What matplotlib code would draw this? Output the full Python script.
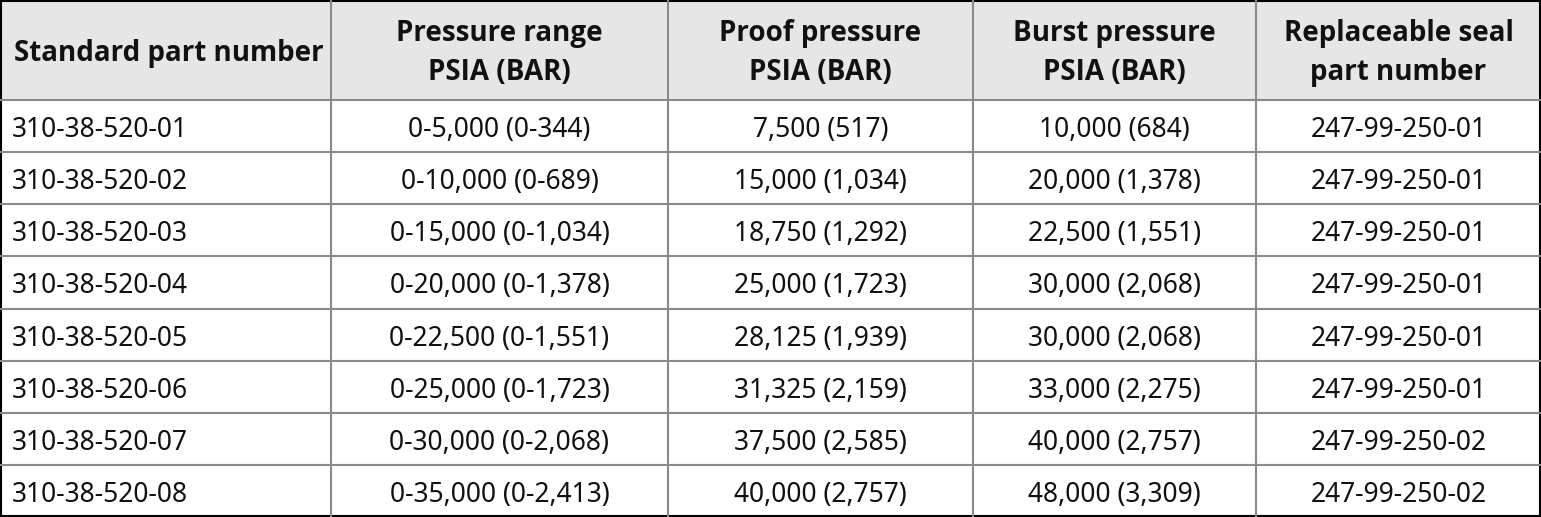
import matplotlib.pyplot as plt
from matplotlib.patches import Rectangle

# table contents
headers = ["Standard part number", "Pressure range\nPSIA (BAR)", "Proof pressure\nPSIA (BAR)",
           "Burst pressure\nPSIA (BAR)", "Replaceable seal\npart number"]
part_numbers = ["310-38-520-01", "310-38-520-02", "310-38-520-03", "310-38-520-04",
                "310-38-520-05", "310-38-520-06", "310-38-520-07", "310-38-520-08"]
pressure_range = ["0-5,000 (0-344)", "0-10,000 (0-689)", "0-15,000 (0-1,034)", "0-20,000 (0-1,378)",
                  "0-22,500 (0-1,551)", "0-25,000 (0-1,723)", "0-30,000 (0-2,068)", "0-35,000 (0-2,413)"]
proof_pressure = ["7,500 (517)", "15,000 (1,034)", "18,750 (1,292)", "25,000 (1,723)",
                  "28,125 (1,939)", "31,325 (2,159)", "37,500 (2,585)", "40,000 (2,757)"]
burst_pressure = ["10,000 (684)", "20,000 (1,378)", "22,500 (1,551)", "30,000 (2,068)",
                  "30,000 (2,068)", "33,000 (2,275)", "40,000 (2,757)", "48,000 (3,309)"]
seal_part = ["247-99-250-01", "247-99-250-01", "247-99-250-01", "247-99-250-01",
             "247-99-250-01", "247-99-250-01", "247-99-250-02", "247-99-250-02"]

columns = [part_numbers, pressure_range, proof_pressure, burst_pressure, seal_part]

# layout in pixels
W, H = 1541, 517
col_edges = [0, 331, 668, 973, 1256, 1541]
header_h = 100
row_h = (H - header_h) / len(part_numbers)

fig = plt.figure(figsize=(W / 100, H / 100), dpi=100)
ax = fig.add_axes([0, 0, 1, 1])
ax.set_xlim(0, W)
ax.set_ylim(H, 0)
ax.axis("off")

font = "Noto Sans"
hfont = "Open Sans"
grid_c = "#8a8a8a"
lw = 1.5

# header background
ax.add_patch(Rectangle((0, 0), W, header_h, facecolor="#e6e6e6", edgecolor="none"))

# grid lines
for x in col_edges[1:-1]:
    ax.plot([x, x], [0, H], color=grid_c, lw=lw)
for i in range(len(part_numbers)):
    y = header_h + i * row_h
    ax.plot([0, W], [y, y], color=grid_c, lw=lw)

# outer border
ax.add_patch(Rectangle((1, 1), W - 2, H - 2, facecolor="none", edgecolor="black", lw=lw))

# header text
for j, h in enumerate(headers):
    if j == 0:
        ax.text(14, header_h / 2 + 3, h, ha="left", va="center", fontsize=20,
                fontweight="bold", family=hfont, color="#111111")
    else:
        cx = (col_edges[j] + col_edges[j + 1]) / 2
        ax.text(cx, header_h / 2 + 3, h, ha="center", va="center", fontsize=20,
                fontweight="bold", family=hfont, color="#111111", linespacing=1.45)

# body text
for j, col in enumerate(columns):
    for i, val in enumerate(col):
        cy = header_h + (i + 0.5) * row_h + 4
        if j == 0:
            ax.text(12, cy, val, ha="left", va="center", fontsize=19, family=font, color="#111111")
        else:
            cx = (col_edges[j] + col_edges[j + 1]) / 2
            ax.text(cx, cy, val, ha="center", va="center", fontsize=19, family=font, color="#111111")

fig.savefig("out.png", dpi=100)
